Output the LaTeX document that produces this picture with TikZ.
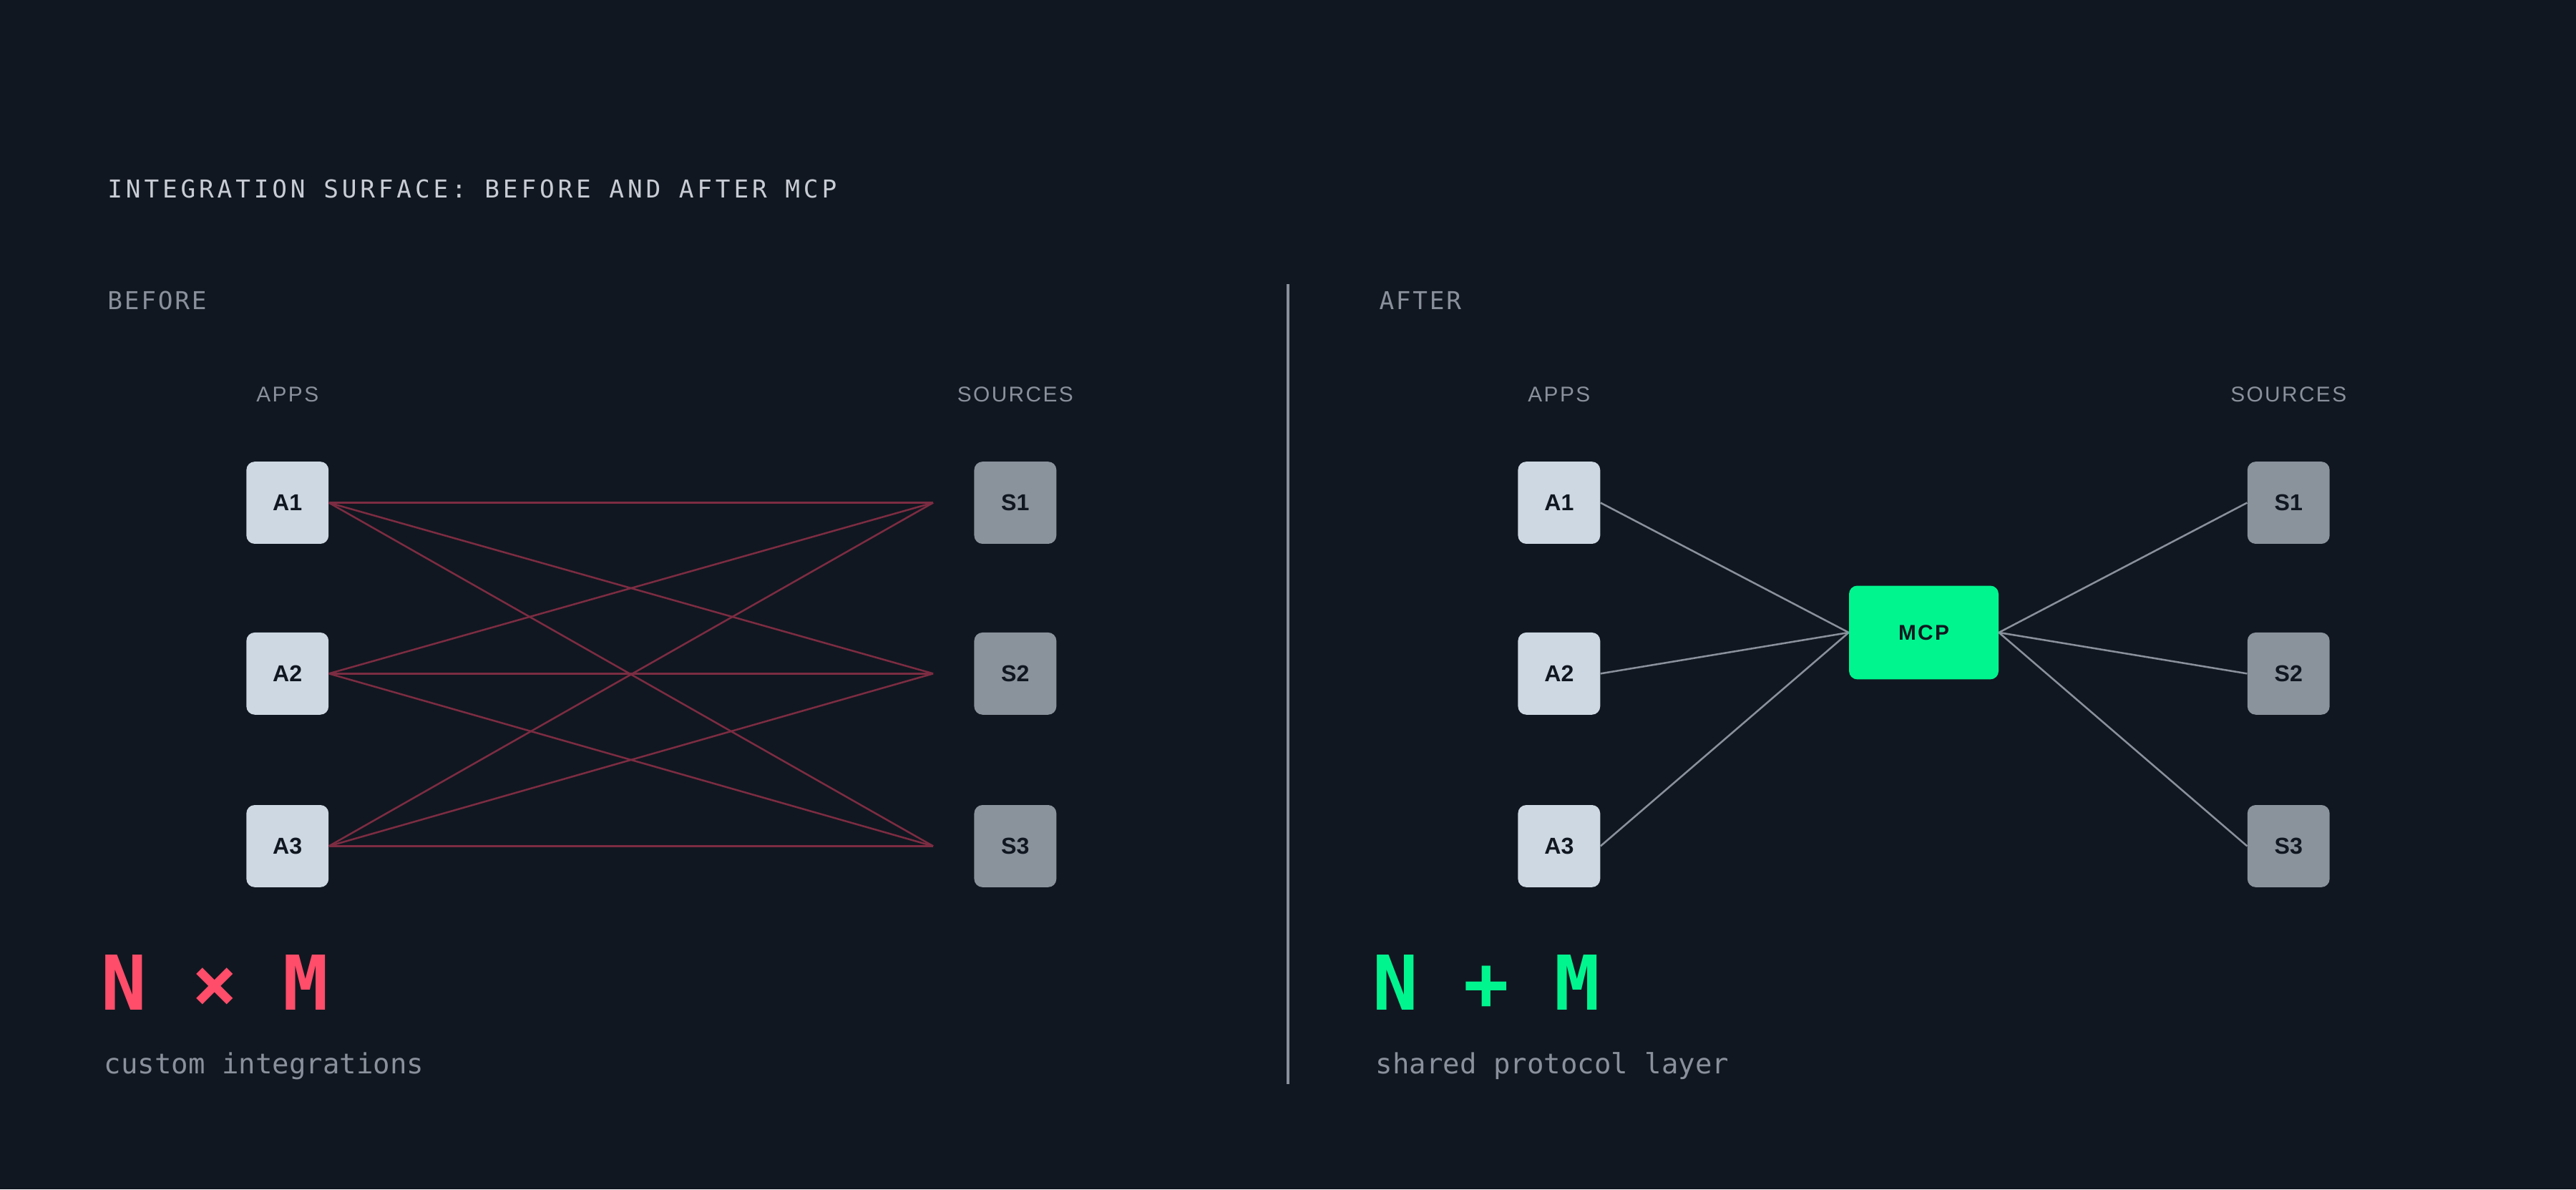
\documentclass[tikz,border=0pt]{standalone}
\usepackage{fontspec}
\setmainfont{Liberation Sans}
\newfontfamily\monof{DejaVu Sans Mono}[LetterSpace=14]
\newfontfamily\monob{DejaVu Sans Mono}[LetterSpace=8]
\newfontfamily\monoc{DejaVu Sans Mono}
\definecolor{bg}{HTML}{111720}
\definecolor{appc}{HTML}{CDD8E3}
\definecolor{srcc}{HTML}{8A929C}
\definecolor{dimt}{HTML}{8A919C}
\definecolor{redl}{HTML}{7C2C42}
\definecolor{redt}{HTML}{FF4D6A}
\definecolor{grn}{HTML}{00F58F}
\definecolor{ttl}{HTML}{C8CDD5}
\begin{document}
\begin{tikzpicture}[x=1pt,y=-1pt,
 box/.style={rounded corners=5pt,minimum width=50pt,minimum height=50pt,inner sep=0pt,font=\bfseries\fontsize{14}{14}\selectfont,text=bg},
 app/.style={box,fill=appc},
 src/.style={box,fill=srcc},
 hdr/.style={font=\fontsize{13}{13}\selectfont\addfontfeature{LetterSpace=8},text=dimt},
 sec/.style={anchor=west,font=\monob\fontsize{15}{15}\selectfont,text=dimt},
 big/.style={anchor=west,font=\monoc\bfseries\fontsize{46}{46}\selectfont},
 sub/.style={anchor=west,font=\monoc\fontsize{17}{17}\selectfont,text=dimt},
 red/.style={draw=redl,line width=1.1pt},
 gl/.style={draw=dimt,line width=1.1pt}]
\fill[bg] (0,0) rectangle (1568,724);
\node[anchor=west,text=ttl,font=\monof\fontsize{15}{15}\selectfont] (title) at (62,115) {INTEGRATION SURFACE: BEFORE AND AFTER MCP};
\node[sec] (before) at (62,183) {BEFORE};
\node[sec] (after) at (836,183) {AFTER};
\coordinate (dt) at (784,173); \coordinate (db) at (784,660);
\draw[dimt,line width=1.5pt] (dt) -- (db);
% before
\node[hdr] (ah1) at (175,240) {APPS};
\node[hdr] (sh1) at (618,240) {SOURCES};
\foreach \i/\y in {1/306,2/410,3/515}{
 \node[app] (a\i) at (175,\y) {A\i};
 \node[src] (s\i) at (618,\y) {S\i};
 \coordinate (e\i) at (568,\y);
}
\foreach \i in {1,2,3}{\foreach \j in {1,2,3}{\draw[red] (a\i.east) -- (e\j);}}
\node[big,text=redt] (nm) at (58,598) {N × M};
\node[sub] (ci) at (60,649) {custom integrations};
% after
\node[hdr] (ah2) at (949,240) {APPS};
\node[hdr] (sh2) at (1393,240) {SOURCES};
\node[box,fill=grn,minimum width=91pt,minimum height=57pt,font=\bfseries\fontsize{13}{13}\selectfont\addfontfeature{LetterSpace=8}] (mcp) at (1171,385) {MCP};
\foreach \i/\y in {1/306,2/410,3/515}{
 \node[app] (b\i) at (949,\y) {A\i};
 \node[src] (t\i) at (1393,\y) {S\i};
 \draw[gl] (b\i.east) -- (mcp.west);
 \draw[gl] (mcp.east) -- (t\i.west);
}
\node[big,text=grn] (np) at (832,598) {N + M};
\node[sub] (sp) at (834,649) {shared protocol layer};
\end{tikzpicture}
\end{document}
